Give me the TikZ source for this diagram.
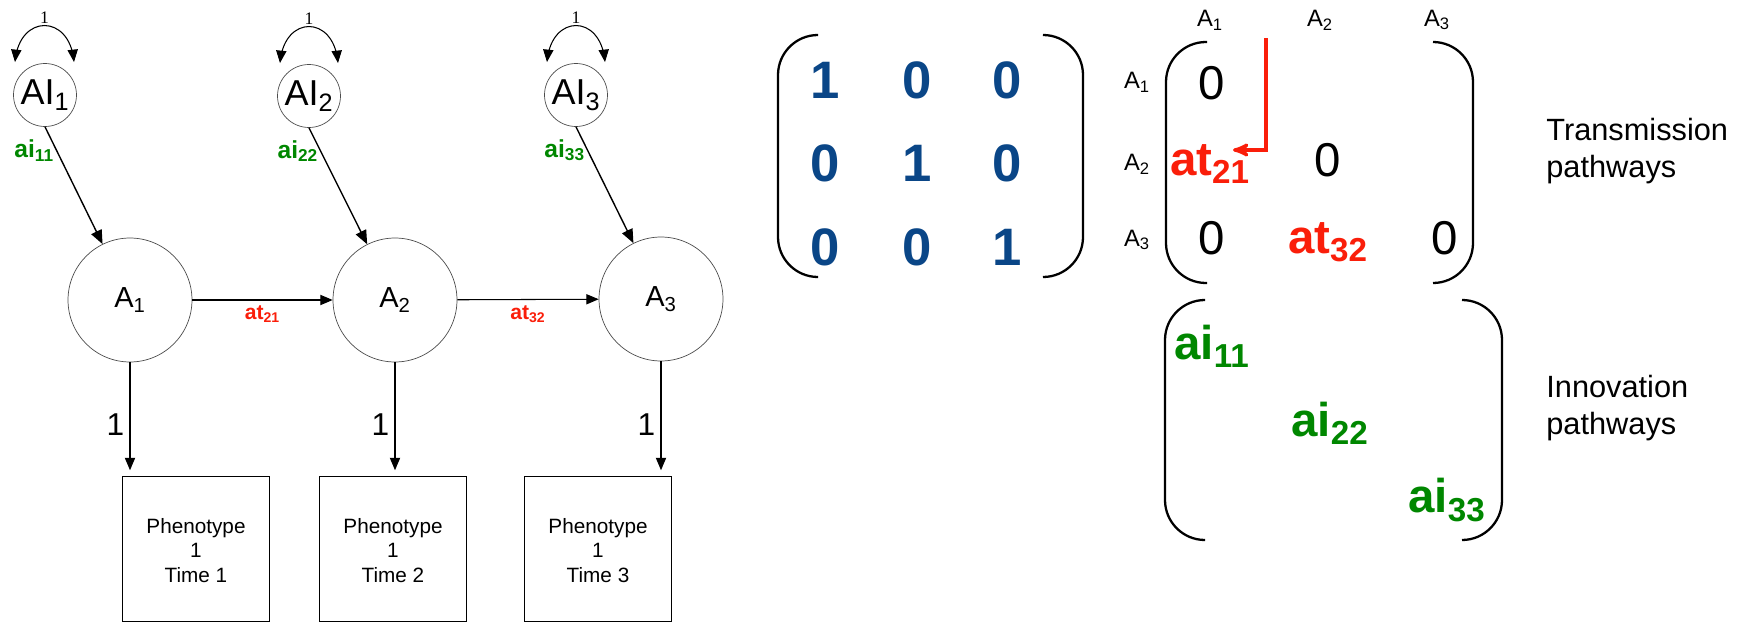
\documentclass[tikz,border=0pt]{standalone}
\usepackage{fontspec}
\setmainfont{Liberation Sans}
\newfontfamily\loopfont{Liberation Serif}
\usetikzlibrary{arrows}
\definecolor{idblue}{RGB}{10,70,135}
\definecolor{trred}{RGB}{250,30,10}
\definecolor{ingreen}{RGB}{0,135,0}

\begin{document}
\begin{tikzpicture}[x=0.02cm,y=0.02cm,->,>=triangle 45,semithick,
  innov node/.style={circle,draw=black!70,thin,inner sep=0pt,minimum size=1.26cm,font=\fontsize{20.5}{24}\selectfont},
  latent node/.style={circle,draw=black!70,thin,inner sep=0pt,minimum size=2.48cm,font=\fontsize{16.5}{19}\selectfont},
  obs node/.style={rectangle,draw,thin,minimum width=2.94cm,minimum height=2.9cm,align=center,font=\fontsize{11.8}{14}\selectfont},
  var label/.style={font=\loopfont\fontsize{10}{12}\selectfont,inner sep=1pt},
  ai label/.style={font=\bfseries\fontsize{14}{16}\selectfont,text=ingreen,inner sep=1pt},
  at label/.style={font=\bfseries\fontsize{12}{14}\selectfont,text=trred,inner sep=3pt},
  one label/.style={font=\fontsize{18}{20}\selectfont,inner sep=3pt},
  id entry/.style={font=\bfseries\fontsize{30}{32}\selectfont,text=idblue},
  tr entry/.style={font=\fontsize{27}{29}\selectfont},
  head label/.style={font=\fontsize{13.5}{16}\selectfont},
  bracket/.style={-,line width=1.3pt,rounded corners=0.8cm},
  side text/.style={anchor=west,align=left,font=\fontsize{17.5}{21.5}\selectfont}]

  \useasboundingbox (0,0) rectangle (1739,-622);

  % path diagram
  \node[innov node] (AI1) at (45,-95) {AI\textsubscript{1}};
  \node[innov node] (AI2) at (309,-96) {AI\textsubscript{2}};
  \node[innov node] (AI3) at (576,-95) {AI\textsubscript{3}};

  \node[latent node] (A1) at (130,-300) {A\textsubscript{1}};
  \node[latent node] (A2) at (395,-300) {A\textsubscript{2}};
  \node[latent node] (A3) at (661,-299) {A\textsubscript{3}};

  \node[obs node] (Ph1) at (196,-549) {\\[-4pt]Phenotype\\1\\Time 1};
  \node[obs node] (Ph2) at (393,-549) {\\[-4pt]Phenotype\\1\\Time 2};
  \node[obs node] (Ph3) at (598,-549) {\\[-4pt]Phenotype\\1\\Time 3};

  \draw[<->] ([shift={(-30,33)}]AI1.center) .. controls +(5,48) and +(-5,48) .. ([shift={(29,33)}]AI1.center)
    node[midway,above,var label] {1};
  \draw[<->] ([shift={(-29,33)}]AI2.center) .. controls +(5,48) and +(-5,48) .. ([shift={(29,33)}]AI2.center)
    node[midway,above,var label] {1};
  \draw[<->] ([shift={(-29,33)}]AI3.center) .. controls +(5,48) and +(-5,48) .. ([shift={(29,33)}]AI3.center)
    node[midway,above,var label] {1};

  \path
  (AI1.south) edge[thick] node[ai label,left,pos=0.2] {ai\textsubscript{11}} (A1)
  (AI2.south) edge[thick] node[ai label,left,pos=0.2] {ai\textsubscript{22}} (A2)
  (AI3.south) edge[thick] node[ai label,left,pos=0.2] {ai\textsubscript{33}} (A3)
  (A1) edge node[at label,below] {at\textsubscript{21}} (A2)
  (A2) edge node[at label,below] {at\textsubscript{32}} (A3)
  (A1) edge[shorten >=3.4pt] node[one label,left,pos=0.55] {1} (A1 |- Ph1.north)
  (A2) edge[shorten >=3.4pt] node[one label,left,pos=0.55] {1} (A2 |- Ph2.north)
  (A3) edge[shorten >=3.4pt] node[one label,left,pos=0.55] {1} (A3 |- Ph3.north);

  % identity matrix
  \draw[bracket] (818,-35) -- (778,-35) -- (778,-277) -- (818,-277);
  \draw[bracket] (1044,-35) -- (1083,-35) -- (1083,-277) -- (1044,-277);
  \node[id entry] (I11) at (825,-80) {1};
  \node[id entry] (I12) at (917,-80) {0};
  \node[id entry] (I13) at (1007,-80) {0};
  \node[id entry] (I21) at (825,-163) {0};
  \node[id entry] (I22) at (917,-163) {1};
  \node[id entry] (I23) at (1007,-163) {0};
  \node[id entry] (I31) at (825,-247) {0};
  \node[id entry] (I32) at (917,-247) {0};
  \node[id entry] (I33) at (1007,-247) {1};

  % transmission matrix
  \node[head label] (c1) at (1210,-20) {A\textsubscript{1}};
  \node[head label] (c2) at (1320,-20) {A\textsubscript{2}};
  \node[head label] (c3) at (1437,-20) {A\textsubscript{3}};
  \node[head label] (r1) at (1137,-82) {A\textsubscript{1}};
  \node[head label] (r2) at (1137,-164) {A\textsubscript{2}};
  \node[head label] (r3) at (1137,-240) {A\textsubscript{3}};

  \draw[bracket] (1207,-42) -- (1166,-42) -- (1166,-283) -- (1207,-283);
  \draw[bracket] (1433,-42) -- (1473,-42) -- (1473,-283) -- (1433,-283);
  \node[tr entry] (T11) at (1212,-83) {0};
  \node[tr entry,font=\bfseries\fontsize{27}{29}\selectfont,text=trred] (T21) at (1210,-164) {at\textsubscript{21}};
  \node[tr entry] (T22) at (1328,-160) {0};
  \node[tr entry] (T31) at (1212,-238) {0};
  \node[tr entry,font=\bfseries\fontsize{27}{29}\selectfont,text=trred] (T32) at (1328,-242) {at\textsubscript{32}};
  \node[tr entry] (T33) at (1445,-238) {0};

  \coordinate (cue) at (1266,-38);
  \draw[-stealth',trred,line width=1.9pt] (cue) |- ([shift={(23,14)}]T21.center);

  \node[side text] (trans) at (1540,-151) {Transmission\\pathways};

  % innovation matrix
  \draw[bracket] (1205,-300) -- (1165,-300) -- (1165,-540) -- (1205,-540);
  \draw[bracket] (1462,-300) -- (1502,-300) -- (1502,-540) -- (1462,-540);
  \node[tr entry,font=\bfseries\fontsize{27}{29}\selectfont,text=ingreen] (N11) at (1212,-346) {ai\textsubscript{11}};
  \node[tr entry,font=\bfseries\fontsize{27}{29}\selectfont,text=ingreen] (N22) at (1330,-423) {ai\textsubscript{22}};
  \node[tr entry,font=\bfseries\fontsize{27}{29}\selectfont,text=ingreen] (N33) at (1447,-500) {ai\textsubscript{33}};

  \node[side text] (innov) at (1540,-408) {Innovation\\pathways};
\end{tikzpicture}
\end{document}
